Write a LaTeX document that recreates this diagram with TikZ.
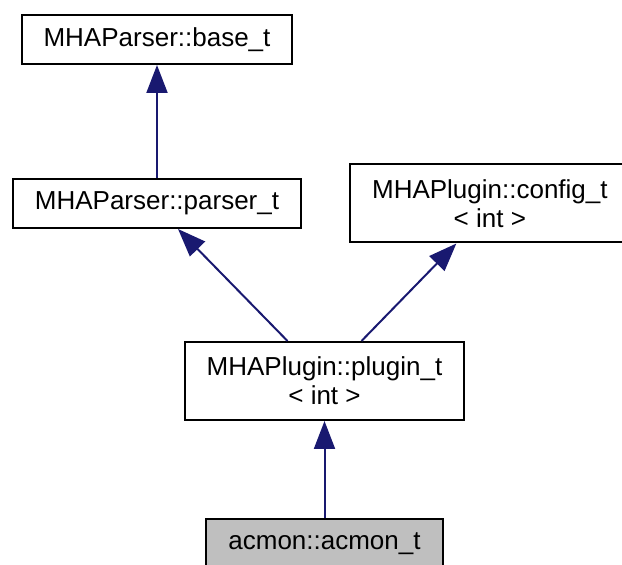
\documentclass[tikz,border=0pt]{standalone}
\usepackage{fontspec}
\setmainfont{Liberation Sans}
\usepackage{tikz}
\usetikzlibrary{arrows.meta, positioning}
\definecolor{MidnightBlue}{RGB}{25,25,112}
\definecolor{Grey75}{RGB}{191,191,191}
\tikzset{
  cls/.style={draw=black, line width=2bp, fill=white, inner xsep=22bp, inner ysep=0pt, minimum height=49bp, align=center, font=\fontsize{26bp}{29bp}\selectfont},
  inherit/.style={draw=MidnightBlue, line width=2bp, -{Triangle[length=28bp,width=21bp,fill=MidnightBlue]}}
}
\begin{document}
\begin{tikzpicture}
\useasboundingbox (0,0) rectangle (622bp,565bp);
\node[cls,fill=Grey75] (AC) at (324.5bp,21.5bp) {acmon::acmon\_t};
\node[cls,minimum height=78bp, above=97bp of AC] (PT) {MHAPlugin::plugin\_t\\< int >};
\node[cls] (PA) at (157bp,361.5bp) {MHAParser::parser\_t};
\node[cls, above=113bp of PA] (BT) {MHAParser::base\_t};
\node[cls,minimum height=78bp, right=47bp of PA] (CT) {MHAPlugin::config\_t\\< int >};
\draw[inherit] (PA) -- (BT);
\draw[inherit] ([xshift=-37bp]PT.north) -- ([xshift=21bp]PA.south);
\draw[inherit] ([xshift=37bp]PT.north) -- ([xshift=-33.5bp]CT.south);
\draw[inherit] (AC) -- (PT);
\end{tikzpicture}
\end{document}
